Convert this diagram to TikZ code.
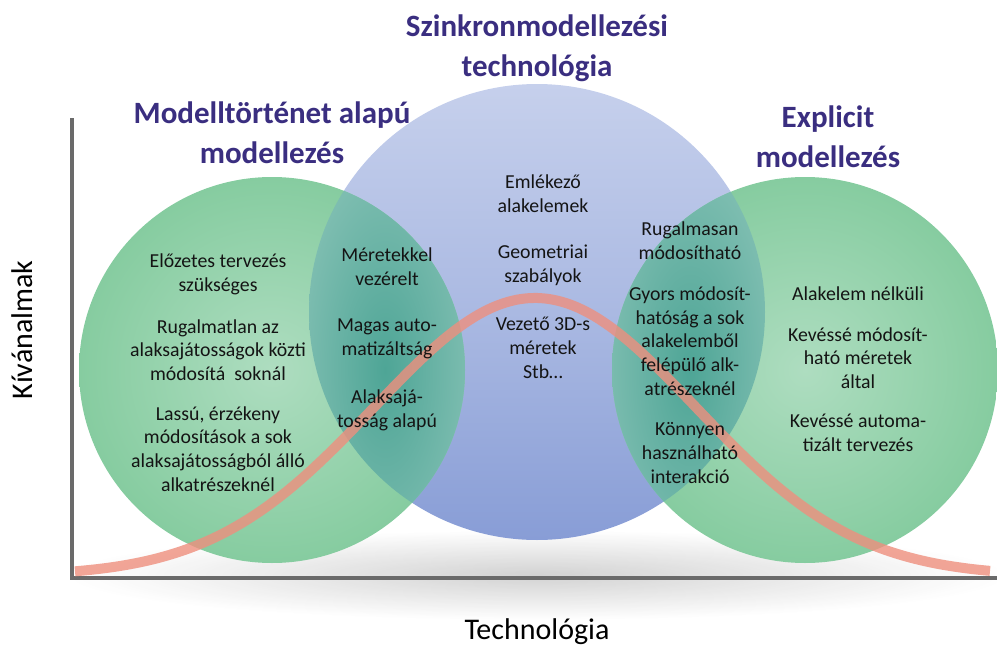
\documentclass[tikz,border=0pt]{standalone}
\usepackage{fontspec}
\setmainfont{Carlito}
\definecolor{titlec}{HTML}{3A2E80}
\definecolor{txt}{HTML}{141414}
\definecolor{gin}{HTML}{AEDDC0}
\definecolor{gout}{HTML}{86CCA0}
\definecolor{btop}{HTML}{C6D0EC}
\definecolor{bbot}{HTML}{889DD6}
\definecolor{tin}{HTML}{4EA596}
\definecolor{tout}{HTML}{7DBDB0}
\definecolor{curvec}{HTML}{EE8F7E}
\definecolor{axisc}{HTML}{6A6A6A}
\tikzset{
  body/.style={font=\fontsize{19.8}{23.7}\selectfont, text=txt, align=center, inner sep=0pt},
  ttl/.style={font=\fontsize{31}{40}\selectfont\bfseries, text=titlec, align=center, inner sep=0pt},
  axlab/.style={font=\fontsize{30}{34}\selectfont, text=black, inner sep=0pt},
  axisline/.style={draw=axisc, line width=3.5pt},
}
\begin{document}
\begin{tikzpicture}[x=1pt,y=-1pt]
\useasboundingbox (0,0) rectangle (997,648);
% soft shadow under the circles
\shade[inner color=black!22, outer color=white, opacity=0.8] (537,575) ellipse (470 and 45);
% axes
\coordinate (O) at (72,578);
\coordinate (ytop) at (72,118);
\coordinate (xend) at (997,578);
\draw[axisline] (ytop) -- (O) -- (xend);
% blue circle
\shade[top color=btop, bottom color=bbot, middle color=btop!55!bbot] (537,312) circle (228);
% green circles
\shade[inner color=gin, outer color=gout] (272,370) circle (193);
\shade[inner color=gin, outer color=gout] (805,370) circle (193);
% overlaps
\begin{scope}
  \clip (537,312) circle (228);
  \clip (272,370) circle (193);
  \shade[inner color=tin, outer color=tout] (300,170) rectangle (470,570);
\end{scope}
\begin{scope}
  \clip (537,312) circle (228);
  \clip (805,370) circle (193);
  \shade[inner color=tin, outer color=tout] (605,170) rectangle (775,570);
\end{scope}
% curve
\draw[curvec, line width=10pt, opacity=0.8] plot[smooth, domain=75:990, samples=90] (\x, {576-278*exp(-0.5*((\x-535)/161)^2)});
% titles
\node[ttl] (t1) at (272,133) {Modelltörténet alapú\\modellezés};
\node[ttl] (t2) at (537,48) {Szinkronmodellezési\\technológia};
\node[ttl] (t3) at (828,137) {Explicit\\modellezés};
% axis labels
\node[axlab, rotate=90] (ylab) at (22,330) {Kívánalmak};
\node[axlab] (xlab) at (537,632) {Technológia};
% left circle
\node[body] (l1) at (218,274) {Előzetes tervezés\\szükséges};
\node[body] (l2) at (218,350) {Rugalmatlan az\\alaksajátosságok közti\\módosítá\ \ soknál};
\node[body] (l3) at (218,449) {Lassú, érzékeny\\módosítások a sok\\alaksajátosságból álló\\alkatrészeknél};
% left overlap
\node[body] (o1) at (387,267) {Méretekkel\\vezérelt};
\node[body] (o2) at (387,339) {Magas auto-\\matizáltság};
\node[body] (o3) at (387,410) {Alaksajá-\\tosság alapú};
% blue
\node[body] (b1) at (543,194) {Emlékező\\alakelemek};
\node[body] (b2) at (543,265) {Geometriai\\szabályok};
\node[body] (b3) at (543,348) {Vezető 3D-s\\méretek\\Stb…};
% right overlap
\node[body] (r1) at (690,241) {Rugalmasan\\módosítható};
\node[body] (r2) at (690,341) {Gyors módosít-\\hatóság a sok\\alakelemből\\felépülő alk-\\atrészeknél};
\node[body] (r3) at (690,453) {Könnyen\\használható\\interakció};
% right circle
\node[body] (e1) at (858,294) {Alakelem nélküli};
\node[body] (e2) at (858,358) {Kevéssé módosít-\\ható méretek\\által};
\node[body] (e3) at (858,433) {Kevéssé automa-\\tizált tervezés};
\end{tikzpicture}
\end{document}
